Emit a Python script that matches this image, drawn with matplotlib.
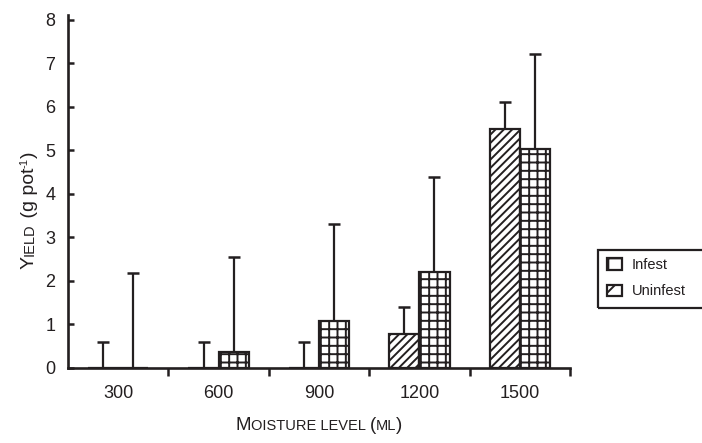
import numpy as np
import matplotlib
matplotlib.use('Agg')
from matplotlib import pyplot as plt
from matplotlib.patches import Patch, Rectangle

plt.rcParams['font.family'] = ['Liberation Sans', 'DejaVu Sans']
plt.rcParams['hatch.linewidth'] = 1.4

ink = '#231f20'

moisture = ['300', '600', '900', '1200', '1500']
uninfest = [0.0, 0.0, 0.0, 0.78, 5.48]
uninfest_top = [0.6, 0.6, 0.6, 1.4, 6.12]
infest = [0.0, 0.37, 1.07, 2.2, 5.03]
infest_top = [2.18, 2.56, 3.3, 4.38, 7.22]

fig = plt.figure(figsize=(7.02, 4.43), dpi=100)
ax = fig.add_axes([68 / 702, 75 / 443, 502 / 702, 353 / 443])

x = np.arange(len(moisture)) + 0.5
w = 0.3

# столбцы
ax.bar(x - w / 2, uninfest, w, facecolor='white', edgecolor=ink, linewidth=1.6,
       hatch='////', zorder=3)
ax.bar(x + w / 2, infest, w, facecolor='white', edgecolor=ink, linewidth=1.6,
       hatch='++', zorder=3)

# погрешности (только вверх)
err_u = np.array(uninfest_top) - np.array(uninfest)
err_i = np.array(infest_top) - np.array(infest)
ax.errorbar(x - w / 2, uninfest, yerr=[np.zeros(5), err_u], fmt='none',
            ecolor=ink, elinewidth=1.6, capsize=4.6, capthick=1.8, zorder=2)
ax.errorbar(x + w / 2, infest, yerr=[np.zeros(5), err_i], fmt='none',
            ecolor=ink, elinewidth=1.6, capsize=4.6, capthick=1.8, zorder=2)

ax.set_xlim(0, 5)
ax.set_ylim(0, 8.11)
ax.set_yticks(range(9))
ax.set_xticks(x)
ax.set_xticklabels(moisture)
ax.set_xticks(np.arange(1, 6), minor=True)
ax.tick_params(axis='x', which='major', length=0, pad=12, labelsize=13, colors=ink)
ax.tick_params(axis='x', which='minor', length=6, width=1.8, direction='out', color=ink)
ax.tick_params(axis='y', length=4, width=1.8, direction='in', pad=9, labelsize=13,
               colors=ink)
for s in ['top', 'right']:
    ax.spines[s].set_visible(False)
for s in ['left', 'bottom']:
    ax.spines[s].set_linewidth(1.9)
    ax.spines[s].set_color(ink)
ax.patch.set_visible(False)

# легенда (рамка уходит за правый край)
handles = [Patch(facecolor='white', edgecolor=ink, hatch='+', linewidth=1.6, label='Infest'),
           Patch(facecolor='white', edgecolor=ink, hatch='/', linewidth=1.6, label='Uninfest')]
leg = fig.legend(handles=handles, loc='upper left', bbox_to_anchor=(607 / 702, 1 - 258 / 443),
                 fontsize=10.5, frameon=False, handlelength=1.0, handleheight=0.8,
                 handletextpad=0.7, borderpad=0, labelspacing=0.85, borderaxespad=0)
for t in leg.get_texts():
    t.set_color(ink)
fig.patches.append(Rectangle((598 / 702, 1 - 308 / 443), 120 / 702, 58 / 443,
                             transform=fig.transFigure, facecolor='none',
                             edgecolor=ink, linewidth=1.6))

# подписи осей капителью
renderer = fig.canvas.get_renderer()


def small_caps(parts, cx, cy, vertical=False):
    # parts: (текст, размер, подъём над базовой линией в пикселях)
    texts = []
    total = 0
    for s, size, rise in parts:
        t = fig.text(0, 0, s, fontsize=size, color=ink, ha='left', va='baseline',
                     rotation=90 if vertical else 0, rotation_mode='anchor',
                     transform=None)
        bb = t.get_window_extent(renderer)
        step = bb.height if vertical else bb.width
        texts.append((t, step, rise))
        total += step
    pos = (cy if vertical else cx) - total / 2
    for t, step, rise in texts:
        if vertical:
            t.set_position((cx - rise, pos))
        else:
            t.set_position((pos, cy + rise))
        pos += step


small_caps([('Y', 14, 0), ('IELD', 10.5, 0), (' (g pot', 14, 0), ('-1', 8, 7), (')', 14, 0)],
           34, 443 - 210, vertical=True)
small_caps([('M', 13.5, 0), ('OISTURE LEVEL ', 10.5, 0), ('(', 13.5, 0), ('ML', 10.5, 0),
            (')', 13.5, 0)], 319, 443 - 430)

fig.savefig('out.png', dpi=100)
